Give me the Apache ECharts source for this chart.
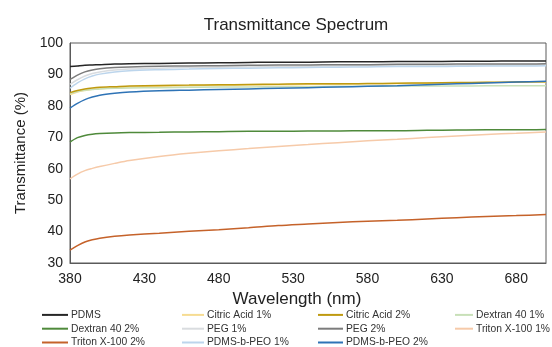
<!DOCTYPE html>
<html>
<head>
<meta charset="utf-8">
<script src="https://cdn.jsdelivr.net/npm/echarts@6/dist/echarts.min.js"></script>
<style>html,body{margin:0;padding:0;background:#fff}#c{width:552px;height:347px}</style>
</head>
<body>
<div id="c"></div>
<script>
const wavelengths = [380,385,390,395,400,410,420,440,460,480,500,520,540,560,580,600,620,640,660,680,700];
const xTickLabels = [380,430,480,530,580,630,680];
const yTickLabels = [30,40,50,60,70,80,90,100];

const pdms        = [92.5,92.7,92.9,93.0,93.1,93.3,93.4,93.5,93.6,93.7,93.8,93.9,93.9,94.0,94.0,94.1,94.1,94.2,94.2,94.3,94.3];
const citric1     = [83.6,84.4,84.9,85.3,85.5,85.8,86.0,86.2,86.4,86.5,86.6,86.7,86.8,86.9,87.0,87.1,87.2,87.3,87.4,87.5,87.6];
const citric2     = [84.2,84.9,85.4,85.7,85.9,86.1,86.3,86.5,86.6,86.7,86.8,86.9,87.0,87.0,87.1,87.2,87.3,87.4,87.5,87.6,87.7];
const dextran1    = [84.0,84.6,85.0,85.2,85.4,85.6,85.7,85.8,85.9,86.0,86.0,86.1,86.1,86.2,86.2,86.3,86.3,86.3,86.4,86.4,86.4];
const dextran2    = [68.5,69.9,70.6,71.0,71.2,71.4,71.5,71.6,71.7,71.8,71.9,71.9,72.0,72.0,72.1,72.1,72.2,72.3,72.4,72.4,72.5];
const peg1        = [86.8,88.3,89.5,90.3,90.8,91.4,91.7,92.0,92.2,92.3,92.4,92.5,92.6,92.7,92.8,92.8,92.9,92.9,93.0,93.0,93.1];
const peg2        = [88.4,89.8,90.8,91.4,91.8,92.2,92.4,92.6,92.7,92.8,92.9,93.0,93.0,93.1,93.1,93.2,93.2,93.3,93.3,93.3,93.4];
const triton1     = [56.8,58.3,59.4,60.1,60.7,61.7,62.6,63.9,64.9,65.7,66.4,67.1,67.7,68.3,68.9,69.4,69.9,70.4,70.9,71.3,71.7];
const triton2     = [34.1,35.5,36.7,37.4,37.9,38.5,38.9,39.5,40.1,40.6,41.2,41.9,42.4,42.9,43.3,43.6,44.0,44.4,44.8,45.1,45.4];
const pdmsbpeo1   = [85.6,87.3,88.6,89.5,90.1,90.8,91.2,91.5,91.7,91.9,92.0,92.1,92.2,92.3,92.4,92.5,92.5,92.6,92.7,92.7,92.8];
const pdmsbpeo2   = [79.3,80.8,82.0,82.8,83.4,84.0,84.4,84.8,85.0,85.2,85.4,85.6,85.8,86.0,86.2,86.4,86.7,87.0,87.3,87.6,87.8];

const seriesDefs = [
  {name:'Citric Acid 1%', data:citric1, color:'#f6dc92'},
  {name:'Dextran 40 1%', data:dextran1, color:'#c8e0b8'},
  {name:'PEG 1%', data:peg1, color:'#d9dcdf'},
  {name:'Triton X-100 1%', data:triton1, color:'#f6caa9'},
  {name:'PDMS-b-PEO 1%', data:pdmsbpeo1, color:'#bcd5ec'},
  {name:'PEG 2%', data:peg2, color:'#7c7c7c'},
  {name:'Citric Acid 2%', data:citric2, color:'#bf9a10'},
  {name:'PDMS-b-PEO 2%', data:pdmsbpeo2, color:'#2e73b6'},
  {name:'Dextran 40 2%', data:dextran2, color:'#4f8a3b'},
  {name:'Triton X-100 2%', data:triton2, color:'#c5622a'},
  {name:'PDMS', data:pdms, color:'#262626'}
];

const legendCols = [
  {left:42, w:26, names:['PDMS','Dextran 40 2%','Triton X-100 2%']},
  {left:182, w:22, names:['Citric Acid 1%','PEG 1%','PDMS-b-PEO 1%']},
  {left:318, w:25, names:['Citric Acid 2%','PEG 2%','PDMS-b-PEO 2%']},
  {left:455, w:18, names:['Dextran 40 1%','Triton X-100 1%']}
];

const font = 'Liberation Sans, Arial, sans-serif';
const chart = echarts.init(document.getElementById('c'));
chart.setOption({
  animation:false,
  backgroundColor:'#fff',
  title:{text:'Transmittance Spectrum', left:291, textAlign:'center', top:12,
    textStyle:{fontFamily:font, fontSize:17, fontWeight:'normal', color:'#222'}},
  legend: legendCols.map(c=>({
    orient:'vertical', left:c.left, top:308, height:60, width:100, padding:0,
    itemWidth:c.w, itemHeight:2, itemGap:0,
    icon:'rect', data:c.names,
    textStyle:{fontFamily:font, fontSize:10.3, color:'#333', lineHeight:13.8, padding:[0,0,0,-2]}
  })),
  grid:{left:70, right:6, top:43, bottom:84, show:true, borderColor:'#5a5a5a', borderWidth:1},
  xAxis:{type:'value', min:380, max:700,
    name:'Wavelength (nm)', nameLocation:'middle', nameGap:27,
    nameTextStyle:{fontFamily:font, fontSize:17, color:'#222', padding:[0,22,0,0]},
    axisLine:{show:true, lineStyle:{color:'#5a5a5a'}}, axisTick:{show:false}, splitLine:{show:false},
    axisLabel:{customValues:xTickLabels, fontFamily:font, fontSize:14, color:'#222', margin:9}
  },
  yAxis:{type:'value', min:30, max:100, interval:10,
    name:'Transmittance (%)', nameLocation:'middle', nameGap:42,
    nameTextStyle:{fontFamily:font, fontSize:15, color:'#222'},
    axisLine:{show:true, lineStyle:{color:'#5a5a5a'}}, axisTick:{show:false}, splitLine:{show:false},
    axisLabel:{customValues:yTickLabels, fontFamily:font, fontSize:14, color:'#222', margin:7}
  },
  series: seriesDefs.map(s=>({
    name:s.name, type:'line', smooth:0.3, symbol:'none',
    data: wavelengths.map((w,i)=>[w, s.data[i]]),
    lineStyle:{width:1.5, color:s.color}, itemStyle:{color:s.color}
  }))
});
</script>
</body>
</html>
